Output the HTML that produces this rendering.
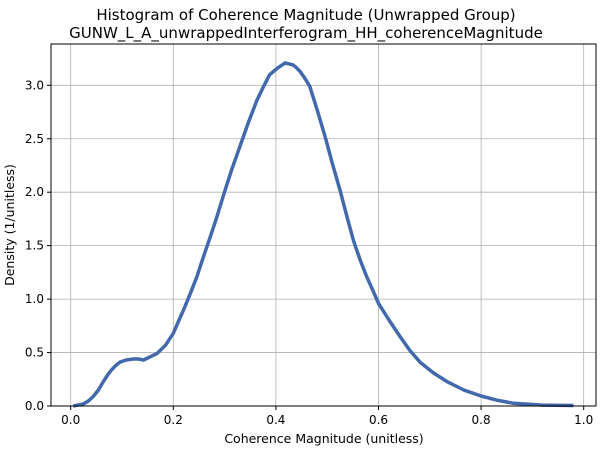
<!DOCTYPE html>
<html><head><meta charset="utf-8"><style>
body{margin:0;background:#fff;}
svg{display:block;font-family:"DejaVu Sans","Liberation Sans",sans-serif;}
</style></head><body>
<svg id="chart" width="600" height="450">
<text x="306" y="20" text-anchor="middle" font-size="15" fill="#000">Histogram of Coherence Magnitude (Unwrapped Group)</text>
<text x="306" y="38" text-anchor="middle" font-size="15" fill="#000">GUNW_L_A_unwrappedInterferogram_HH_coherenceMagnitude</text>
<g id="grid"></g>
<g id="ticks"></g>
<path id="curve" fill="none" stroke="#4269ac" stroke-width="3.5" stroke-linejoin="round"/>
<rect x="51" y="44" width="545" height="362" fill="none" stroke="#000" stroke-width="1"/>
<text x="324" y="443" text-anchor="middle" font-size="12.5">Coherence Magnitude (unitless)</text>
<text transform="translate(14,225) rotate(-90)" text-anchor="middle" font-size="12.5">Density (1/unitless)</text>
</svg>
<script>
const xTicks=[0.0,0.2,0.4,0.6,0.8,1.0];
const xTickLabels=["0.0","0.2","0.4","0.6","0.8","1.0"];
const yTicks=[0,0.5,1.0,1.5,2.0,2.5,3.0];
const yTickLabels=["0.0","0.5","1.0","1.5","2.0","2.5","3.0"];
const coherence=[0.005,0.015,0.025,0.035,0.044,0.054,0.064,0.072,0.08,0.088,0.096,0.108,0.122,0.132,0.142,0.155,0.168,0.185,0.2,0.21,0.22,0.233,0.246,0.259,0.272,0.285,0.297,0.313,0.33,0.347,0.363,0.376,0.388,0.403,0.418,0.426,0.434,0.441,0.447,0.456,0.466,0.481,0.496,0.51,0.525,0.538,0.551,0.564,0.577,0.589,0.6,0.621,0.642,0.661,0.681,0.707,0.733,0.766,0.8,0.83,0.863,0.92,0.98];
const density=[0.0,0.01,0.02,0.05,0.09,0.15,0.23,0.29,0.34,0.38,0.41,0.43,0.44,0.44,0.43,0.46,0.49,0.57,0.68,0.79,0.90,1.05,1.21,1.40,1.58,1.77,1.96,2.20,2.43,2.66,2.86,2.99,3.10,3.16,3.21,3.20,3.19,3.16,3.13,3.07,2.99,2.76,2.52,2.27,2.02,1.78,1.55,1.37,1.21,1.08,0.96,0.80,0.65,0.52,0.41,0.31,0.23,0.15,0.094,0.055,0.025,0.008,0.005];
const X=v=>70.7+v*513, Y=v=>406-v*106.9;
const NS="http://www.w3.org/2000/svg";
const grid=document.getElementById('grid'), ticks=document.getElementById('ticks');
function mk(tag,attrs,parent){const e=document.createElementNS(NS,tag);for(const k in attrs)e.setAttribute(k,attrs[k]);parent.appendChild(e);return e;}
xTicks.forEach((v,i)=>{
  const g=mk('line',{x1:X(v),x2:X(v),y1:44,y2:406,stroke:'#b0b0b0','stroke-width':0.8},grid);
  
  
  mk('line',{x1:X(v),x2:X(v),y1:406,y2:410,stroke:'#000'},ticks);
  const t=mk('text',{x:X(v),y:424,'text-anchor':'middle','font-size':12},ticks);
  t.textContent=xTickLabels[i];
  
  
});
yTicks.forEach((v,i)=>{
  const g=mk('line',{x1:51,x2:596,y1:Y(v),y2:Y(v),stroke:'#b0b0b0','stroke-width':0.8},grid);
  
  
  mk('line',{x1:47,x2:51,y1:Y(v),y2:Y(v),stroke:'#000'},ticks);
  const t=mk('text',{x:44,y:Y(v)+4,'text-anchor':'end','font-size':12},ticks);
  t.textContent=yTickLabels[i];
  
  
});
document.getElementById('curve').setAttribute('d',coherence.map((c,i)=>(i?'L':'M')+X(c).toFixed(1)+','+Y(density[i]).toFixed(1)).join(''));
</script>
</body></html>
